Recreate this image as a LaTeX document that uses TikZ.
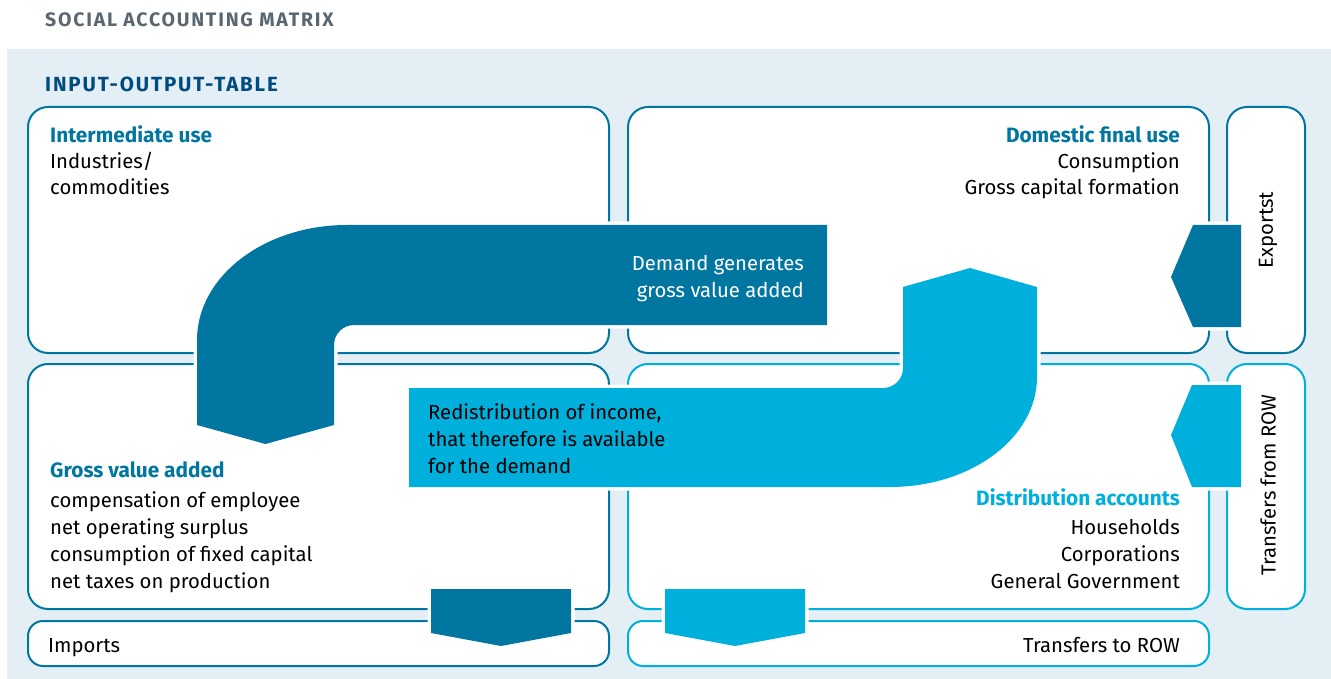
\documentclass[tikz,border=0pt]{standalone}
\usepackage{fontspec}
\setmainfont{Fira Sans}
\usetikzlibrary{positioning}
\definecolor{ioteal}{HTML}{0076A0}
\definecolor{iocyan}{HTML}{00B0DC}
\definecolor{iobg}{HTML}{E3EEF5}
\definecolor{iogrey}{HTML}{5A6670}
\definecolor{ionavy}{HTML}{004C7E}

\begin{document}
\begin{tikzpicture}[x=1pt,y=-1pt,
    every node/.style={inner sep=0pt,font=\fontsize{20.3}{26.7}\selectfont},
    tealbox/.style={draw=ioteal,line width=2pt,rounded corners=20pt,fill=white,anchor=north west},
    cyanbox/.style={tealbox,draw=iocyan},
    head/.style={font=\fontsize{20.8}{26.7}\selectfont\bfseries},
    title/.style={font=\fontsize{#1}{24}\selectfont\bfseries\addfontfeature{LetterSpace=9}},
    flow/.style={preaction={draw=white,line width=7pt,line join=round},fill=#1}]
  \useasboundingbox (0,0) rectangle (1331,679);
  \fill[iobg] (7,49) rectangle (1331,679);

  \node[title=19.5,text=iogrey,anchor=base west] (sam) at (45,27) {SOCIAL ACCOUNTING MATRIX};
  \node[title=20.5,text=ionavy,anchor=base west] (iot) at (45,92) {INPUT-OUTPUT-TABLE};

  % blocks of the matrix
  \node[tealbox,minimum width=581pt,minimum height=246pt] (interm) at (27,106) {};
  \node[tealbox,minimum width=581pt,minimum height=246pt] (final) at (627,106) {};
  \node[tealbox,minimum width=78pt,minimum height=246pt] (exports) at (1226,106) {};
  \node[tealbox,minimum width=581pt,minimum height=245pt] (gva) at (27,363) {};
  \node[cyanbox,minimum width=581pt,minimum height=245pt] (distr) at (627,363) {};
  \node[cyanbox,minimum width=78pt,minimum height=245pt] (rowin) at (1226,363) {};
  \node[tealbox,minimum width=581pt,minimum height=45pt,rounded corners=15pt] (imports) at (27,620) {};
  \node[cyanbox,minimum width=581pt,minimum height=45pt,rounded corners=15pt] (rowout) at (627,620) {};

  % flows
  \path[flow=ioteal] (827,225) -- (347,225)
    arc[start angle=270,end angle=180,x radius=150,y radius=115]
    -- (197,425) -- (265.5,444) -- (334,425) -- (334,345)
    arc[start angle=180,end angle=270,radius=20] -- (827,325) -- cycle;
  \path[flow=iocyan] (409,388) -- (883,388)
    arc[start angle=90,end angle=0,radius=20]
    -- (903,287) -- (970,268) -- (1037,287) -- (1037,377)
    arc[start angle=0,end angle=90,x radius=147,y radius=110] -- (409,487) -- cycle;
  \path[flow=ioteal] (1241,225) -- (1193,225) -- (1171,277) -- (1193,327) -- (1241,327) -- cycle;
  \path[flow=iocyan] (1241,385) -- (1192,385) -- (1171,435) -- (1192,487) -- (1241,487) -- cycle;
  \path[flow=ioteal] (431,589) -- (571,589) -- (571,633) -- (501,646) -- (431,633) -- cycle;
  \path[flow=iocyan] (665,589) -- (805,589) -- (805,633) -- (735,646) -- (665,633) -- cycle;

  % labels (multi-line nodes sit on their last line)
  \node[head,text=ioteal,anchor=base west] (intermhd) at (50,143) {Intermediate use};
  \node[anchor=base west,align=left] (intermtxt) at (50,195) {Industries/\\commodities};
  \node[head,text=ioteal,anchor=base east] (finalhd) at (1180,143) {Domestic final use};
  \node[anchor=base east,align=right] (finaltxt) at (1180,195) {Consumption\\Gross capital formation};
  \node[head,text=ioteal,anchor=base west] (gvahd) at (50,477) {Gross value added};
  \node[anchor=base west,align=left] (gvatxt) at (50,588) {compensation of employee\\net operating surplus\\consumption of fixed capital\\net taxes on production};
  \node[head,text=iocyan,anchor=base east] (distrhd) at (1180,505) {Distribution accounts};
  \node[anchor=base east,align=right] (distrtxt) at (1180,588) {Households\\Corporations\\General Government};
  \node[anchor=base west] (importstxt) at (48,652) {Imports};
  \node[anchor=base east] (rowouttxt) at (1180,652) {Transfers to ROW};
  \node[rotate=90] (exportstxt) at (1268,230) {Exportst};
  \node[rotate=90] (rowintxt) at (1268,485) {Transfers from ROW};
  \node[anchor=base east,align=right,text=white] (demandtxt) at (804,297) {Demand generates\\gross value added};
  \node[anchor=base west,align=left] (redisttxt) at (428,473) {Redistribution of income,\\that therefore is available\\for the demand};
\end{tikzpicture}
\end{document}
